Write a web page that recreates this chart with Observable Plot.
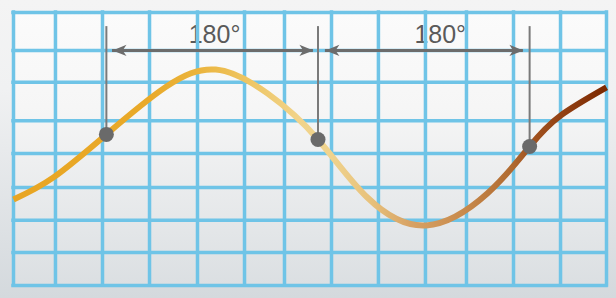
<!DOCTYPE html>
<html><head><meta charset="utf-8">
<script src="https://cdn.jsdelivr.net/npm/d3@7"></script>
<script src="https://cdn.jsdelivr.net/npm/@observablehq/plot@0.6"></script>
<style>html,body{margin:0;padding:0;background:#e6e9eb;} #chart svg{display:block;}</style>
</head><body><div id="chart"></div>
<script>
// Grid line positions (x in degrees of phase, y in grid units)
const gridX = [-79, -43.3, -3.3, 36.7, 77.5, 117.5, 151.5, 191.5, 231.4, 271.4, 306.3, 346.3, 386.3, 425.4];
const gridY = [0, 0.98, 1.94, 2.92, 3.93, 4.91, 6.05, 7.0, 8.13];

// Wave curve
const curveDeg = [-79, -45, 0, 50, 93, 137, 180, 222, 272, 324, 360, 386.3, 425.4];
const curveVal = [2.56, 3.22, 4.50, 5.90, 6.43, 5.72, 4.35, 2.62, 1.79, 2.74, 4.14, 5.06, 5.90];

// Markers at 0°, 180°, 360°
const markerDeg = [0, 180, 360];
const markerVal = [4.50, 4.35, 4.14];
const markerTop = 7.71;

// Arrows between markers
const arrowY = 7;
const arrowStart = [5.2, 186.3];
const arrowEnd = [176.1, 354.7];
const arrowLabels = ["180°", "180°"];
const labelDeg = [92, 284];

const curve = curveDeg.map((d, i) => ({deg: d, val: curveVal[i]}));
const markers = markerDeg.map((d, i) => ({deg: d, val: markerVal[i]}));
const arrows = arrowStart.map((s, i) => ({x1: s, x2: arrowEnd[i], label: arrowLabels[i], lx: labelDeg[i]}));
const box = [{x1: gridX[0], x2: gridX[gridX.length - 1], y1: gridY[0], y2: gridY[gridY.length - 1]}];

function headSymbol(dir) {
  return {
    draw(ctx, size) {
      const r = Math.sqrt(size / Math.PI);
      const L = 2 * r, W = 0.8 * r, N = 1.45 * r;
      ctx.moveTo(0, 0);
      ctx.lineTo(-dir * L, -W);
      ctx.lineTo(-dir * N, 0);
      ctx.lineTo(-dir * L, W);
      ctx.closePath();
    }
  };
}

const svg = Plot.plot({
  width: 616,
  height: 298,
  margin: 0,
  style: {background: "linear-gradient(#f4f4f4, #f0f1f2 30%, #d4d9dd)"},
  x: {domain: [gridX[0], gridX[gridX.length - 1]], range: [13, 606], axis: null},
  y: {domain: [gridY[0], gridY[gridY.length - 1]], range: [285, 12], axis: null},
  marks: [
    Plot.rect(box, {x1: "x1", x2: "x2", y1: "y1", y2: "y2", fill: "url(#cellGrad)"}),
    Plot.text(arrows, {x: "lx", y: arrowY, text: "label", dy: -7, lineAnchor: "bottom", fontSize: 25, fill: "#5a5a5a", fontFamily: "Liberation Sans, Arial, sans-serif"}),
    Plot.ruleX(gridX, {y1: gridY[0], y2: gridY[gridY.length - 1], stroke: "#6fc4e7", strokeWidth: 3.5, strokeLinecap: "square"}),
    Plot.ruleY(gridY, {x1: gridX[0], x2: gridX[gridX.length - 1], stroke: "#6fc4e7", strokeWidth: 3.5, strokeLinecap: "square"}),
    Plot.ruleX(markers, {x: "deg", y1: "val", y2: markerTop, stroke: "#7a7a7a", strokeWidth: 2}),
    Plot.ruleY(arrows, {x1: "x1", x2: "x2", y: arrowY, stroke: "#6c6c6c", strokeWidth: 3}),
    Plot.dot(arrows, {x: "x1", y: arrowY, r: 7, symbol: headSymbol(-1), fill: "#6c6c6c", stroke: "none"}),
    Plot.dot(arrows, {x: "x2", y: arrowY, r: 7, symbol: headSymbol(1), fill: "#6c6c6c", stroke: "none"}),
    Plot.line(curve, {x: "deg", y: "val", curve: "natural", stroke: "url(#curveGrad)", strokeWidth: 6, strokeLinecap: "butt"}),
    Plot.dot(markers, {x: "deg", y: "val", r: 7.5, fill: "#6a6a6a", stroke: "none"})
  ]
});

const ns = "http://www.w3.org/2000/svg";
const defs = document.createElementNS(ns, "defs");
function grad(id, vertical, stops) {
  const g = document.createElementNS(ns, "linearGradient");
  g.setAttribute("id", id);
  g.setAttribute("x1", "0"); g.setAttribute("y1", "0");
  g.setAttribute("x2", vertical ? "0" : "1"); g.setAttribute("y2", vertical ? "1" : "0");
  for (const [o, c] of stops) {
    const s = document.createElementNS(ns, "stop");
    s.setAttribute("offset", o);
    s.setAttribute("stop-color", c);
    g.appendChild(s);
  }
  defs.appendChild(g);
}
grad("cellGrad", true, [[0, "#fbfbfb"], [0.35, "#f6f6f6"], [1, "#dbdfe2"]]);
grad("curveGrad", false, [
  [0, "#e8a522"], [0.23, "#e9aa2a"], [0.31, "#ebb43c"], [0.40, "#eec665"],
  [0.48, "#f1d38a"], [0.53, "#f0d48e"], [0.60, "#e8c27c"], [0.67, "#d7a264"],
  [0.76, "#c88a4c"], [0.84, "#b06a30"], [0.87, "#a35420"], [0.94, "#8e3c10"], [1, "#7b2800"]
]);
svg.insertBefore(defs, svg.firstChild);
document.getElementById("chart").appendChild(svg);
</script>
</body></html>
